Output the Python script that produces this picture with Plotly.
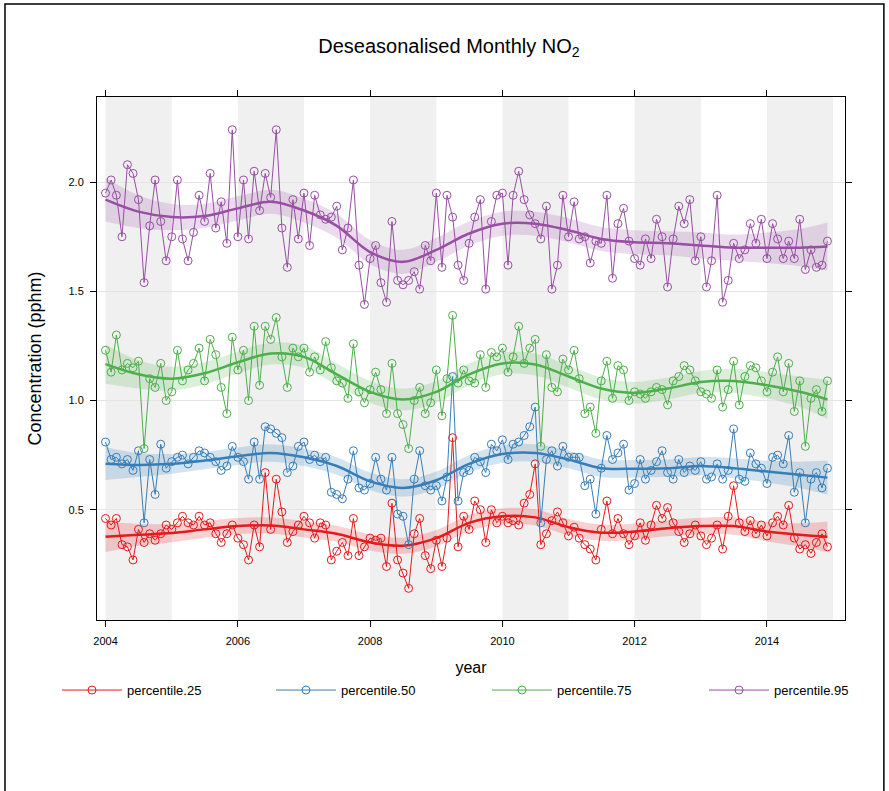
import numpy as np
import pandas as pd
import plotly.graph_objects as go

# monthly values, Jan 2004 - Dec 2014 (one row per year)
p25 = [0.46, 0.43, 0.46, 0.34, 0.33, 0.27, 0.41, 0.35, 0.39, 0.36, 0.39, 0.43,
       0.41, 0.44, 0.47, 0.44, 0.43, 0.47, 0.43, 0.44, 0.39, 0.35, 0.39, 0.43,
       0.37, 0.34, 0.27, 0.43, 0.33, 0.67, 0.41, 0.64, 0.49, 0.35, 0.40, 0.43,
       0.47, 0.44, 0.37, 0.44, 0.43, 0.27, 0.31, 0.35, 0.29, 0.46, 0.29, 0.33,
       0.37, 0.36, 0.37, 0.24, 0.53, 0.27, 0.21, 0.14, 0.39, 0.46, 0.29, 0.23,
       0.36, 0.24, 0.37, 0.83, 0.33, 0.47, 0.41, 0.54, 0.50, 0.35, 0.50, 0.44,
       0.47, 0.44, 0.45, 0.43, 0.53, 0.57, 0.71, 0.34, 0.39, 0.45, 0.49, 0.44,
       0.38, 0.42, 0.37, 0.34, 0.32, 0.27, 0.41, 0.54, 0.39, 0.46, 0.39, 0.34,
       0.38, 0.44, 0.36, 0.43, 0.52, 0.46, 0.51, 0.44, 0.40, 0.35, 0.39, 0.43,
       0.38, 0.34, 0.37, 0.43, 0.32, 0.47, 0.61, 0.44, 0.40, 0.45, 0.39, 0.43,
       0.38, 0.44, 0.47, 0.43, 0.52, 0.37, 0.32, 0.34, 0.30, 0.35, 0.39, 0.33]

p50 = [0.81, 0.73, 0.74, 0.71, 0.73, 0.68, 0.77, 0.44, 0.73, 0.57, 0.80, 0.69,
       0.72, 0.74, 0.75, 0.71, 0.74, 0.77, 0.76, 0.74, 0.72, 0.68, 0.70, 0.79,
       0.74, 0.72, 0.64, 0.81, 0.64, 0.88, 0.87, 0.85, 0.83, 0.67, 0.70, 0.79,
       0.81, 0.73, 0.75, 0.72, 0.74, 0.58, 0.57, 0.55, 0.64, 0.77, 0.60, 0.59,
       0.62, 0.74, 0.64, 0.59, 0.74, 0.48, 0.47, 0.34, 0.64, 0.77, 0.61, 0.59,
       0.61, 0.54, 0.65, 1.11, 0.54, 0.67, 0.68, 0.74, 0.72, 0.67, 0.80, 0.77,
       0.82, 0.73, 0.80, 0.81, 0.84, 0.88, 0.97, 0.44, 0.73, 0.77, 0.70, 0.79,
       0.74, 0.74, 0.74, 0.61, 0.64, 0.48, 0.69, 0.84, 0.73, 0.76, 0.80, 0.59,
       0.62, 0.73, 0.64, 0.68, 0.72, 0.77, 0.67, 0.64, 0.73, 0.67, 0.70, 0.68,
       0.72, 0.64, 0.65, 0.71, 0.64, 0.68, 0.87, 0.64, 0.63, 0.76, 0.71, 0.69,
       0.62, 0.74, 0.75, 0.71, 0.84, 0.58, 0.67, 0.44, 0.64, 0.67, 0.60, 0.69]

p75 = [1.23, 1.13, 1.30, 1.14, 1.17, 1.15, 1.18, 0.78, 1.10, 1.06, 1.17, 1.00,
       1.04, 1.23, 1.09, 1.14, 1.17, 1.24, 1.09, 1.28, 1.21, 1.06, 0.94, 1.29,
       1.14, 1.23, 1.00, 1.34, 1.07, 1.34, 1.28, 1.38, 1.20, 1.06, 1.24, 1.20,
       1.24, 1.13, 1.20, 1.14, 1.27, 1.15, 1.09, 1.08, 1.01, 1.26, 1.04, 0.99,
       1.05, 1.13, 1.05, 0.94, 1.17, 0.94, 0.89, 0.78, 1.00, 1.06, 0.94, 0.99,
       1.14, 0.93, 1.10, 1.39, 1.08, 1.14, 1.09, 1.08, 1.21, 1.06, 1.22, 1.20,
       1.24, 1.13, 1.20, 1.34, 1.17, 1.24, 1.28, 0.79, 1.21, 1.06, 1.04, 1.19,
       1.14, 1.23, 1.10, 0.94, 0.97, 0.85, 1.09, 1.18, 1.01, 1.16, 1.14, 1.00,
       1.04, 1.03, 1.01, 1.04, 1.06, 1.05, 0.98, 1.09, 1.11, 1.16, 1.14, 1.09,
       1.04, 1.03, 1.01, 1.14, 0.97, 1.05, 1.18, 0.98, 1.11, 1.16, 1.15, 1.09,
       1.04, 1.13, 1.20, 1.04, 1.17, 0.95, 1.09, 0.79, 1.01, 1.05, 0.95, 1.09]

p95 = [1.95, 2.01, 1.94, 1.75, 2.08, 2.04, 1.92, 1.54, 1.80, 2.01, 1.82, 1.64,
       1.75, 2.01, 1.74, 1.64, 1.77, 1.94, 1.82, 2.04, 1.79, 1.91, 1.72, 2.24,
       1.75, 2.01, 1.74, 2.05, 1.87, 2.04, 1.93, 2.24, 1.79, 1.61, 1.92, 1.74,
       1.95, 1.71, 1.94, 1.85, 1.83, 1.84, 1.89, 1.69, 1.79, 2.01, 1.62, 1.44,
       1.65, 1.71, 1.54, 1.45, 1.82, 1.55, 1.53, 1.55, 1.59, 1.51, 1.71, 1.64,
       1.95, 1.61, 1.94, 1.84, 1.62, 1.55, 1.72, 1.84, 1.92, 1.51, 1.82, 1.94,
       1.95, 1.62, 1.94, 2.05, 1.92, 1.85, 1.81, 1.74, 1.89, 1.51, 1.62, 1.94,
       1.75, 1.91, 1.74, 1.75, 1.63, 1.73, 1.72, 1.94, 1.56, 1.81, 1.88, 1.73,
       1.65, 1.62, 1.74, 1.65, 1.83, 1.75, 1.52, 1.74, 1.89, 1.81, 1.92, 1.64,
       1.75, 1.52, 1.64, 1.94, 1.45, 1.55, 1.72, 1.65, 1.69, 1.81, 1.72, 1.83,
       1.65, 1.81, 1.74, 1.65, 1.73, 1.65, 1.83, 1.60, 1.69, 1.61, 1.62, 1.73]

months = pd.date_range("2004-01-01", periods=132, freq="MS")

# smooth trend read at half-year knots, plus its band half-width
knots = [f"{y}-{m:02d}-01" for y in range(2004, 2015) for m in (1, 7)] + ["2014-12-01"]

trend25 = [0.376, 0.385, 0.393, 0.41, 0.425, 0.428, 0.41, 0.39, 0.35, 0.335, 0.37, 0.44,
           0.47, 0.465, 0.42, 0.395, 0.40, 0.415, 0.425, 0.425, 0.40, 0.385, 0.376]
trend50 = [0.711, 0.705, 0.71, 0.725, 0.745, 0.76, 0.74, 0.70, 0.63, 0.60, 0.635, 0.71,
           0.755, 0.76, 0.73, 0.69, 0.688, 0.69, 0.70, 0.69, 0.675, 0.66, 0.647]
trend75 = [1.167, 1.12, 1.10, 1.125, 1.175, 1.215, 1.20, 1.12, 1.04, 1.005, 1.04, 1.12,
           1.17, 1.165, 1.11, 1.055, 1.035, 1.055, 1.085, 1.09, 1.07, 1.04, 1.005]
trend95 = [1.92, 1.865, 1.84, 1.845, 1.88, 1.91, 1.87, 1.80, 1.68, 1.635, 1.69, 1.765,
           1.81, 1.81, 1.78, 1.74, 1.725, 1.72, 1.71, 1.70, 1.70, 1.70, 1.705]

hw25 = [0.07, 0.05, 0.042, 0.038, 0.037, 0.037, 0.037, 0.037, 0.037, 0.037, 0.037, 0.037,
        0.037, 0.037, 0.037, 0.037, 0.037, 0.037, 0.038, 0.04, 0.045, 0.053, 0.07]
hw50 = [0.075, 0.055, 0.045, 0.04, 0.04, 0.04, 0.04, 0.04, 0.04, 0.04, 0.04, 0.04,
        0.04, 0.04, 0.04, 0.04, 0.04, 0.04, 0.042, 0.045, 0.05, 0.06, 0.078]
hw75 = [0.09, 0.065, 0.055, 0.05, 0.05, 0.05, 0.05, 0.05, 0.05, 0.05, 0.05, 0.05,
        0.05, 0.05, 0.05, 0.05, 0.05, 0.05, 0.05, 0.055, 0.06, 0.07, 0.09]
hw95 = [0.10, 0.075, 0.06, 0.055, 0.055, 0.055, 0.055, 0.055, 0.055, 0.055, 0.055, 0.055,
        0.055, 0.055, 0.055, 0.055, 0.055, 0.055, 0.06, 0.06, 0.07, 0.085, 0.11]

series = [
    ("percentile.25", p25, trend25, hw25, "#E41A1C", "rgba(228,26,28,0.2)", "legend"),
    ("percentile.50", p50, trend50, hw50, "#377EB8", "rgba(55,126,184,0.22)", "legend2"),
    ("percentile.75", p75, trend75, hw75, "#4DAF4A", "rgba(77,175,74,0.2)", "legend3"),
    ("percentile.95", p95, trend95, hw95, "#984EA3", "rgba(152,78,163,0.2)", "legend4"),
]

fig = go.Figure()
for name, vals, tr, hw, col, fillcol, leg in series:
    tr = np.array(tr)
    hw = np.array(hw)
    fig.add_trace(go.Scatter(x=months, y=vals, name=name, mode="lines+markers",
                             legend=leg,
                             line=dict(color=col, width=1),
                             marker=dict(symbol="circle-open", size=8, color=col,
                                         line=dict(width=1, color=col))))
    fig.add_trace(go.Scatter(x=knots, y=tr - hw, mode="lines", showlegend=False,
                             line=dict(width=0, shape="spline"), hoverinfo="skip"))
    fig.add_trace(go.Scatter(x=knots, y=tr + hw, mode="lines", showlegend=False,
                             line=dict(width=0, shape="spline"), fill="tonexty",
                             fillcolor=fillcol, hoverinfo="skip"))
    fig.add_trace(go.Scatter(x=knots, y=tr, mode="lines", showlegend=False,
                             line=dict(color=col, width=2.5, shape="spline")))

# alternating year shading
shapes = []
for yr in range(2004, 2015, 2):
    shapes.append(dict(type="rect", xref="x", yref="paper", layer="below",
                       x0=f"{yr}-01-01", x1=f"{yr + 1}-01-01", y0=0, y1=1,
                       fillcolor="#F0F0F0", line=dict(width=0)))
# outer frame seen in the reference screenshot
shapes.append(dict(type="rect", xref="paper", yref="paper",
                   x0=-0.123, x1=1.052, y0=-0.4, y1=1.1778,
                   line=dict(color="black", width=1.5), fillcolor="rgba(0,0,0,0)"))

legend_style = dict(orientation="h", y=-0.134, yanchor="middle", xanchor="left",
                    itemwidth=60, font=dict(size=13), bgcolor="rgba(0,0,0,0)")

fig.update_layout(
    width=889, height=791,
    margin=dict(l=97, r=44, t=97, b=171),
    paper_bgcolor="white", plot_bgcolor="white",
    font=dict(family="Liberation Sans, Arial, sans-serif", color="black"),
    title=dict(text="Deseasonalised Monthly NO<sub>2</sub>", x=0.505, xref="container",
               y=0.942, yanchor="middle", xanchor="center", font=dict(size=20)),
    shapes=shapes,
    showlegend=True,
    legend=dict(x=-0.0535, **legend_style),
    legend2=dict(x=0.2326, **legend_style),
    legend3=dict(x=0.5214, **legend_style),
    legend4=dict(x=0.8115, **legend_style),
)
fig.update_xaxes(range=["2003-11-15", "2015-03-08"], type="date", automargin=False,
                 tickvals=[f"{y}-01-01" for y in range(2004, 2015, 2)],
                 ticktext=[str(y) for y in range(2004, 2015, 2)],
                 showgrid=False, zeroline=False,
                 showline=True, linecolor="black", linewidth=1, mirror="ticks",
                 ticks="outside", ticklen=6, tickcolor="black",
                 ticklabelstandoff=5, tickfont=dict(size=11),
                 title=dict(text="year", font=dict(size=16), standoff=15))
fig.update_yaxes(range=[-0.005, 2.39], tickvals=[0.5, 1.0, 1.5, 2.0], automargin=False,
                 ticktext=["0.5", "1.0", "1.5", "2.0"],
                 showgrid=True, gridcolor="#E4E4E4", gridwidth=1, zeroline=False,
                 showline=True, linecolor="black", linewidth=1, mirror="ticks",
                 ticks="outside", ticklen=6, tickcolor="black",
                 ticklabelstandoff=4, tickfont=dict(size=11),
                 title=dict(text="Concentration (pphm)", font=dict(size=18), standoff=22))

fig.write_html("out.html", config={"displayModeBar": False},
               post_script="document.body.style.margin='0px';")
